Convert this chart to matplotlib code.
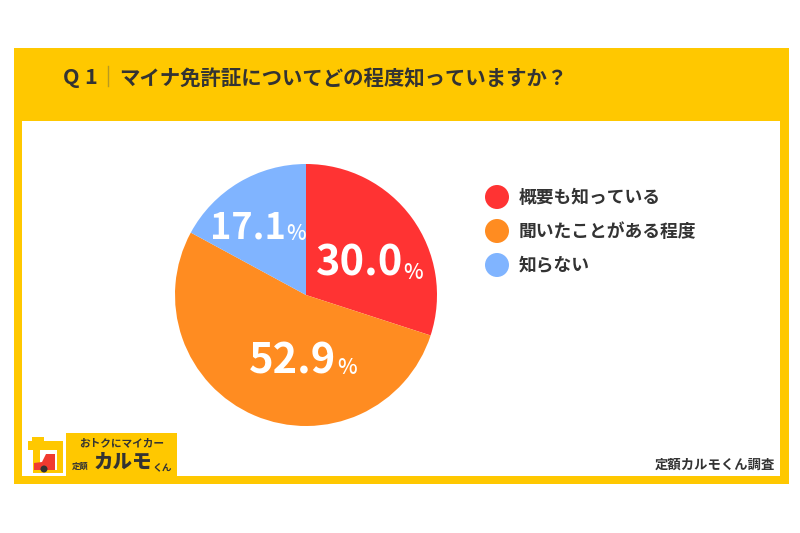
from matplotlib import pyplot as plt
from matplotlib.patches import Rectangle, Circle, Polygon

plt.rcParams['font.family'] = ['Noto Sans CJK JP', 'DejaVu Sans']

W, H = 800, 533
YELLOW = '#FFC800'
DARK = '#333333'

title = 'マイナ免許証についてどの程度知っていますか？'
categories = ['概要も知っている', '聞いたことがある程度', '知らない']
values = [30.0, 52.9, 17.1]
colors = ['#FF3333', '#FF8C21', '#80B4FF']

fig = plt.figure(figsize=(W / 100, H / 100), dpi=100, facecolor='white')

# background layer in pixel coordinates
bg = fig.add_axes([0, 0, 1, 1])
bg.set_xlim(0, W)
bg.set_ylim(H, 0)
bg.axis('off')
bg.set_zorder(1)
bg.add_patch(Rectangle((14, 48), 775, 436, fc=YELLOW, ec='none'))
bg.add_patch(Rectangle((22, 121), 758, 355, fc='white', ec='none'))

# title
bg.text(63, 78, 'Q', fontsize=15.5, fontweight='bold', color=DARK, va='center', ha='left')
bg.text(84, 78, '1', fontsize=15.5, fontweight='bold', color=DARK, va='center', ha='left')
bg.plot([108, 108], [66, 86], color='#B89A20', lw=1)
bg.text(119, 78.5, title, fontsize=14.7, fontweight='bold', color=DARK, va='center', ha='left')

# pie
cx, cy, r = 306, 295, 131
pie_ax = fig.add_axes([(cx - r) / W, 1 - (cy + r) / H, 2 * r / W, 2 * r / H])
pie_ax.set_zorder(2)
pie_ax.pie(values, colors=colors, startangle=90, counterclock=False, radius=1,
           wedgeprops={'linewidth': 0})
pie_ax.set_xlim(-1, 1)
pie_ax.set_ylim(-1, 1)

# value labels go on their own layer above the pie
top = fig.add_axes([0, 0, 1, 1])
top.set_xlim(0, W)
top.set_ylim(H, 0)
top.axis('off')
top.patch.set_alpha(0)
top.set_zorder(3)

label_pos = [(316, 263), (249, 362), (210, 228)]
label_size = [30, 30, 26]
pct_pos = [(403.5, 273), (337.5, 368), (286, 234)]
for v, (x, y), s, (px, py) in zip(values, label_pos, label_size, pct_pos):
    top.text(x, y, '%.1f' % v, fontsize=s, fontweight='bold', color='white',
             va='center', ha='left')
    top.text(px, py, '%', fontsize=15, fontweight='medium', color='white',
             va='center', ha='left')

# legend
legend_y = [197, 231, 265]
for name, c, y in zip(categories, colors, legend_y):
    bg.add_patch(Circle((497, y), 12, fc=c, ec='none'))
    bg.text(519, y + 1, name, fontsize=12.8, fontweight='bold', color=DARK, va='center', ha='left')

# source note
bg.text(775, 465, '定額カルモくん調査', fontsize=9.6, fontweight='bold', color=DARK, va='center', ha='right')

# logo
bg.add_patch(Rectangle((66, 433), 111, 44, fc=YELLOW, ec='none'))
bg.text(121.5, 443, 'おトクにマイカー', fontsize=7.7, fontweight='bold', color=DARK, va='center', ha='center')
bg.text(80, 466, '定額', fontsize=6, fontweight='bold', color=DARK, va='center', ha='center')
bg.text(122.5, 462, 'カルモ', fontsize=14, fontweight='black', color=DARK, va='center', ha='center')
bg.text(162, 467, 'くん', fontsize=7, fontweight='bold', color=DARK, va='center', ha='center')

# logo icon
bg.add_patch(Rectangle((28, 441), 35, 9, fc=YELLOW, ec='none'))
bg.add_patch(Rectangle((32, 437), 12, 5, fc=YELLOW, ec='none'))
bg.add_patch(Rectangle((33, 449), 7, 23, fc=YELLOW, ec='none'))
bg.add_patch(Rectangle((57, 449), 6, 23, fc=YELLOW, ec='none'))
bg.add_patch(Rectangle((33, 470), 30, 2.5, fc=YELLOW, ec='none'))
bg.add_patch(Polygon([(34, 470), (34, 463), (42, 462), (46, 454), (55, 454), (55, 470)],
                     closed=True, fc='#F03A30', ec='none'))
bg.add_patch(Circle((44, 469), 3.5, fc=DARK, ec='none'))

fig.savefig('out.png', dpi=100)
